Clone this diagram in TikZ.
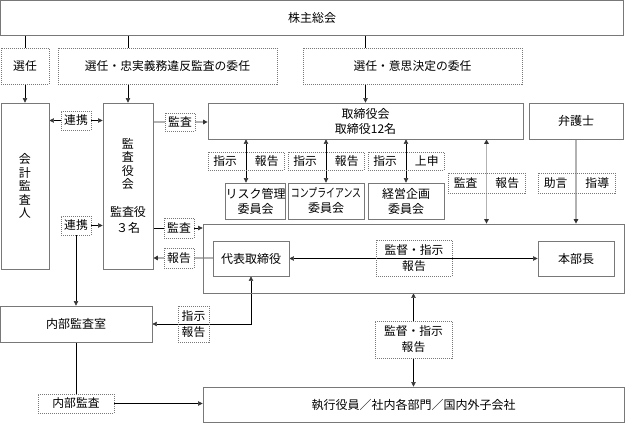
\documentclass[tikz,border=0pt]{standalone}
\usepackage{fontspec}
\setmainfont{Noto Sans CJK JP}
\usetikzlibrary{arrows.meta,backgrounds}
\definecolor{boxgray}{HTML}{787878}
\definecolor{darkline}{HTML}{5C5C5C}
\definecolor{lightline}{HTML}{B2B2B2}
\tikzset{
  box/.style={draw=boxgray, line width=0.8pt, inner sep=0pt, align=center,
    font=\fontsize{12}{15}\selectfont},
  lbl/.style={draw=boxgray, line width=0.6pt, dash pattern=on 1pt off 1pt,
    fill=white, inner sep=0pt, align=center, font=\fontsize{11.8}{16}\selectfont},
  openlbl/.style={lbl, fill=none},
  darkln/.style={draw=darkline, line width=0.7pt},
  lightln/.style={draw=lightline, line width=1.4pt},
}
\begin{document}
\begin{tikzpicture}[x=1pt, y=-1pt,
    >={Triangle[length=4.5pt,width=4.5pt,color=black!80]}]
  \useasboundingbox (0,0) rectangle (625,423);
  \node[box, minimum width=623, minimum height=35] (soukai) at (312,17.5) {株主総会};
  \node[lbl, minimum width=48, minimum height=36] (sen1) at (25,66) {選任};
  \node[lbl, minimum width=219, minimum height=36] (sen2) at (167.5,66) {選任・忠実義務違反監査の委任};
  \node[lbl, minimum width=219, minimum height=36] (sen3) at (412.5,66) {選任・意思決定の委任};
  \node[box, minimum width=48, minimum height=166, font=\fontsize{12}{13.5}\selectfont]
    (kaikei) at (25,186) {会\\計\\監\\査\\人};
  \node[box, minimum width=50, minimum height=166, font=\fontsize{12}{13.5}\selectfont]
    (kansayaku) at (128,186) {監\\査\\役\\会\\[14pt]監査役\\[3pt]３名};
  \node[lbl, minimum width=30, minimum height=19] (renkei1) at (76,120.5) {連携};
  \node[lbl, minimum width=30, minimum height=19] (renkei2) at (76,225.5) {連携};
  \node[lbl, minimum width=30, minimum height=18] (kansa1) at (180,122) {監査};
  \node[box, minimum width=315, minimum height=36] (torishimari) at (365.5,121) {取締役会\\取締役12名};
  \node[box, minimum width=94, minimum height=36] (bengoshi) at (576,121) {弁護士};
  \node[openlbl, minimum width=76, minimum height=18] (lab1) at (246,161) {指示\hspace{18pt}報告};
  \node[openlbl, minimum width=76, minimum height=18] (lab2) at (326,161) {指示\hspace{18pt}報告};
  \node[openlbl, minimum width=76, minimum height=18] (lab3) at (406,161) {指示\hspace{18pt}上申};
  \node[box, minimum width=57, minimum height=36] (risk) at (255.5,201) {リスク管理\\委員会};
  \node[box, minimum width=76, minimum height=36] (comp) at (326,201) {\scalebox{0.74}[1]{コンプライアンス}\\委員会};
  \node[box, minimum width=76, minimum height=36] (keiei) at (406,201) {経営企画\\委員会};
  \node[openlbl, minimum width=77, minimum height=20] (lab4) at (486.5,183) {監査\hspace{18pt}報告};
  \node[openlbl, minimum width=77, minimum height=20] (lab5) at (576.5,183) {助言\hspace{18pt}指導};
  \node[box, minimum width=421, minimum height=69] (exec) at (413.5,258.5) {};
  \node[lbl, minimum width=30, minimum height=20] (kansa2) at (179,228) {監査};
  \node[lbl, minimum width=30, minimum height=20] (houkoku1) at (179,258) {報告};
  \node[box, minimum width=76, minimum height=35] (daihyo) at (251,258.5) {代表取締役};
  \node[box, minimum width=76, minimum height=35] (honbucho) at (576,258.5) {本部長};
  \node[openlbl, minimum width=76, minimum height=36] (kantoku1) at (414,258) {監督・指示\\報告};
  \node[box, minimum width=152, minimum height=36] (naibu) at (76,324) {内部監査室};
  \node[openlbl, minimum width=31, minimum height=36] (shiji) at (193.5,324) {指示\\報告};
  \node[lbl, minimum width=76, minimum height=19] (naibukansa) at (76,403.5) {内部監査};
  \node[lbl, minimum width=77, minimum height=37] (kantoku2) at (413.5,339.5) {監督・指示\\報告};
  \node[box, minimum width=421, minimum height=35] (shikko) at (413.5,404.5) {執行役員／社内各部門／国内外子会社};
  \begin{scope}[on background layer, darkln]
    \draw (soukai.south -| sen1) -- (sen1.north);
    \draw[->] (sen1.south) -- (kaikei.north);
    \draw (soukai.south -| kansayaku) -- (sen2.north -| kansayaku);
    \draw[->] (sen2.south -| kansayaku) -- (kansayaku.north);
    \draw (soukai.south -| torishimari) -- (sen3.north -| torishimari);
    \draw[->] (sen3.south -| torishimari) -- (torishimari.north);
    \draw[<->] (renkei1 -| kaikei.east) -- (renkei1 -| kansayaku.west);
    \draw[->] (renkei2.east) -- (renkei2 -| kansayaku.west);
    \draw[->] (renkei2.south) -- (naibu.north -| renkei2);
    \draw[lightln, ->] (kansa1 -| kansayaku.east) -- (kansa1 -| torishimari.west);
    \draw[->] (kansa2 -| kansayaku.east) -- (kansa2 -| exec.west);
    \draw[lightln, ->] (houkoku1 -| daihyo.west) -- (houkoku1 -| kansayaku.east);
    \foreach \l/\c in {lab1/risk, lab2/comp, lab3/keiei}
      \draw[<->] (torishimari.south -| \l) -- (\c.north -| \l);
    \draw[lightln, <->] (torishimari.south -| lab4) -- (exec.north -| lab4);
    \draw[lightln, ->] (bengoshi.south) -- (exec.north -| bengoshi);
    \draw[<->] (daihyo.east) -- (honbucho.west);
    \draw[<->] (daihyo.south) -- (daihyo.south |- shiji) -- (naibu.east);
    \draw[<->] (exec.south -| kantoku2) -- (shikko.north -| kantoku2);
    \draw (naibu.south) -- (naibukansa.north);
    \draw[->] (naibukansa.east) -- (naibukansa -| shikko.west);
  \end{scope}
\end{tikzpicture}
\end{document}
